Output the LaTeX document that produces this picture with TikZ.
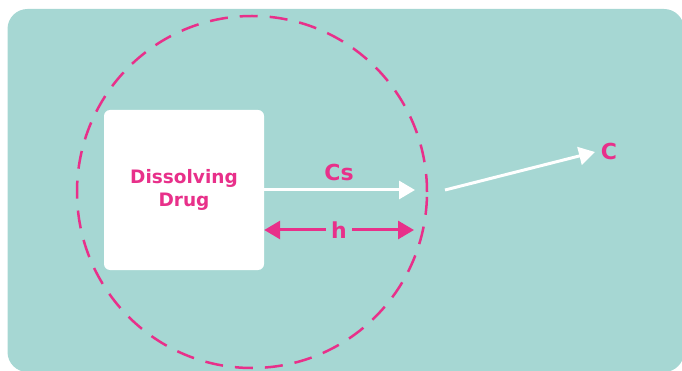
\documentclass[tikz,border=0pt]{standalone}
\usepackage{fontspec}
\setmainfont{DejaVu Sans}
\usepackage{tikz}
\usetikzlibrary{arrows.meta}
\usetikzlibrary{shapes.geometric}
\definecolor{bgteal}{HTML}{A6D7D3}
\definecolor{drugpink}{HTML}{E8308A}
\tikzset{
    drugbox/.style = {rectangle, fill=white, rounded corners=6pt, align=center, text=drugpink, font=\bfseries\fontsize{18.5}{23}\selectfont, minimum width=160pt, minimum height=160pt, inner sep=0pt},
    lbl/.style = {text=drugpink, font=\bfseries\fontsize{22}{26}\selectfont, inner sep=0pt},
}
\begin{document}
\begin{tikzpicture}[
	x=1pt,
	y=-1pt
]
\tikzset{
    layer/.style = {ellipse, draw=drugpink, line width=2.5pt, dash pattern=on 18pt off 12pt, minimum width=350pt, minimum height=352pt, inner sep=0pt},
    edgew/.style = {-{Triangle[length=16pt,width=18pt]}, line width=3pt, white},
    edgep/.style = {-{Triangle[length=16pt,width=18pt]}, line width=3pt, drugpink},
}
\useasboundingbox (0,0) rectangle (682,371);
\clip (0,0) rectangle (682,371);
\fill[bgteal, rounded corners=20pt] (7.5,9) rectangle (684,372);
\node[layer] at (252,192) (film) {};
\node[drugbox] at (184,190) (drug) {Dissolving\\Drug};
\node[lbl] at (339,172) (cs) {Cs};
\node[lbl] at (609,151) (c) {C};
\node[lbl, inner xsep=5pt] at (339,230) (h) {h};
\coordinate (csend) at (415,190);
\coordinate (bulk) at (445,190);
\coordinate (cend) at (595,152);
\coordinate (hend) at (414,230);
%
\draw[edgew] (drug.east |- csend) -- (csend);
\draw[edgew] (bulk) -- (cend);
%
\draw[edgep] (h.west) -- (drug.east |- h.west);
\draw[edgep] (h.east) -- (hend);
\end{tikzpicture}
\end{document}
